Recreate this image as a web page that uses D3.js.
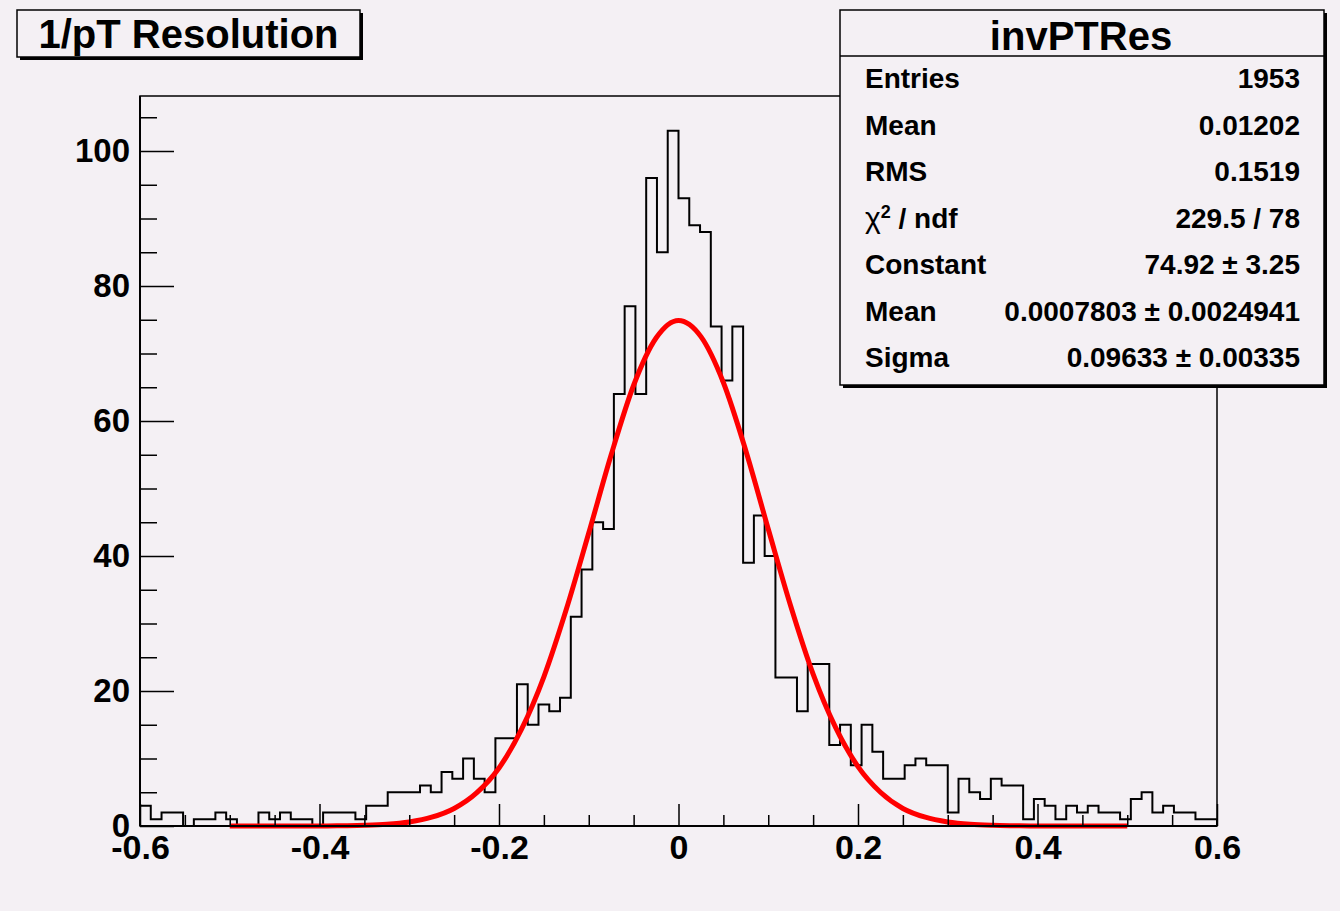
<!DOCTYPE html>
<html>
<head>
<meta charset="utf-8">
<script src="https://cdn.jsdelivr.net/npm/d3@7"></script>
<style>
  body { margin: 0; background: #f4f0f4; }
  text { font-family: "Liberation Sans", Arial, sans-serif; font-weight: bold; fill: #000; }
</style>
</head>
<body>
<div id="chart"></div>
<script>
// histogram: 100 bins from -0.6 to 0.6 (width 0.012)
const xMin = -0.6, xMax = 0.6, binWidth = 0.012;
const counts = [
  3, 1, 2, 2, 0, 1, 1, 2, 1, 0,
  0, 2, 1, 2, 1, 1, 0, 2, 2, 2,
  1, 3, 3, 5, 5, 5, 6, 5, 8, 7,
  10, 7, 5, 13, 13, 21, 15, 18, 17, 19,
  31, 38, 45, 44, 64, 77, 64, 96, 85, 103,
  93, 89, 88, 74, 66, 74, 39, 46, 40, 22,
  22, 17, 24, 24, 12, 15, 9, 15, 11, 7,
  7, 9, 10, 9, 9, 2, 7, 5, 4, 7,
  6, 6, 1, 4, 3, 1, 3, 2, 3, 2,
  2, 1, 4, 5, 2, 3, 2, 2, 1, 1
];

// fitted gaussian
const fitX = [-0.5, -0.475, -0.45, -0.425, -0.4, -0.375, -0.35, -0.325, -0.3, -0.275,
  -0.25, -0.225, -0.2, -0.175, -0.15, -0.125, -0.1, -0.075, -0.05, -0.025,
  0, 0.025, 0.05, 0.075, 0.1, 0.125, 0.15, 0.175, 0.2, 0.225,
  0.25, 0.275, 0.3, 0.325, 0.35, 0.375, 0.4, 0.425, 0.45, 0.475, 0.5];
const fitY = [0, 0, 0, 0, 0, 0.04, 0.1, 0.25, 0.6, 1.3,
  2.6, 4.9, 8.6, 14.3, 22.1, 32.1, 43.4, 55.0, 65.3, 72.3,
  74.9, 72.5, 65.7, 55.6, 44.0, 32.6, 22.5, 14.6, 8.8, 5.0,
  2.6, 1.3, 0.6, 0.25, 0.1, 0.04, 0, 0, 0, 0, 0];

const yMajor = [0, 20, 40, 60, 80, 100];
const yMinor = [5, 10, 15, 25, 30, 35, 45, 50, 55, 65, 70, 75, 85, 90, 95, 105];
const xMajor = [-0.6, -0.4, -0.2, 0, 0.2, 0.4, 0.6];
const xMinor = [-0.55, -0.5, -0.45, -0.35, -0.3, -0.25, -0.15, -0.1, -0.05,
  0.05, 0.1, 0.15, 0.25, 0.3, 0.35, 0.45, 0.5, 0.55];

const histTitle = "1/pT Resolution";
const statsTitle = "invPTRes";
const statLabels = ["Entries", "Mean", "RMS", "CHI", "Constant", "Mean", "Sigma"];
const statValues = ["1953", "0.01202", "0.1519", "229.5 / 78", "74.92 \u00b1 3.25",
  "0.0007803 \u00b1 0.0024941", "0.09633 \u00b1 0.00335"];

const W = 1340, H = 911;
const frame = { left: 140, right: 1217, top: 96, bottom: 826 };

const svg = d3.select("#chart").append("svg")
  .attr("width", W).attr("height", H);

svg.append("rect").attr("width", W).attr("height", H).attr("fill", "#f4f0f4");

const x = d3.scaleLinear().domain([xMin, xMax]).range([frame.left, frame.right]);
const y = d3.scaleLinear().domain([0, 1.05 * d3.max(counts)]).range([frame.bottom, frame.top]);

// frame
svg.append("rect")
  .attr("x", frame.left).attr("y", frame.top)
  .attr("width", frame.right - frame.left).attr("height", frame.bottom - frame.top)
  .attr("fill", "none").attr("stroke", "#000").attr("stroke-width", 1.5);

// histogram outline
const steps = [[xMin, 0]];
counts.forEach((c, i) => steps.push([xMin + i * binWidth, c]));
steps.push([xMax, counts[counts.length - 1]]);
steps.push([xMax, 0]);

svg.append("path")
  .datum(steps)
  .attr("d", d3.line().x(d => x(d[0])).y(d => y(d[1])).curve(d3.curveStepAfter))
  .attr("fill", "none").attr("stroke", "#000").attr("stroke-width", 2);

// fit curve
svg.append("path")
  .datum(fitX.map((v, i) => [v, fitY[i]]))
  .attr("d", d3.line().x(d => x(d[0])).y(d => y(d[1])).curve(d3.curveMonotoneX))
  .attr("fill", "none").attr("stroke", "#ff0000").attr("stroke-width", 5)
  .attr("stroke-linejoin", "round");

// axes
const yAxis = svg.append("g").attr("transform", `translate(${frame.left},0)`)
  .call(d3.axisLeft(y).tickValues(yMajor).tickSizeInner(-34).tickSizeOuter(0)
    .tickPadding(10).tickFormat(d3.format("d")));
svg.append("g").attr("transform", `translate(${frame.left},0)`)
  .call(d3.axisLeft(y).tickValues(yMinor).tickSizeInner(-17).tickSizeOuter(0).tickFormat(""));

const xAxis = svg.append("g").attr("transform", `translate(0,${frame.bottom})`)
  .call(d3.axisBottom(x).tickValues(xMajor).tickSizeInner(-22).tickSizeOuter(0)
    .tickPadding(9).tickFormat(d => String(d)));
svg.append("g").attr("transform", `translate(0,${frame.bottom})`)
  .call(d3.axisBottom(x).tickValues(xMinor).tickSizeInner(-11).tickSizeOuter(0).tickFormat(""));

svg.selectAll(".domain").remove();
svg.selectAll(".tick line").attr("stroke", "#000").attr("stroke-width", 1.5);
yAxis.selectAll("text").attr("font-size", 33).attr("font-family", null);
xAxis.selectAll("text").attr("font-size", 34).attr("font-family", null);

// axis lines on top
svg.append("line").attr("x1", frame.left).attr("x2", frame.left)
  .attr("y1", frame.top).attr("y2", frame.bottom)
  .attr("stroke", "#000").attr("stroke-width", 2);
svg.append("line").attr("x1", frame.left).attr("x2", frame.right)
  .attr("y1", frame.bottom).attr("y2", frame.bottom)
  .attr("stroke", "#000").attr("stroke-width", 2);

// title box
const tb = { x: 17, y: 10, w: 343, h: 47 };
svg.append("rect").attr("x", tb.x + 3).attr("y", tb.y + 3).attr("width", tb.w).attr("height", tb.h)
  .attr("fill", "#000");
svg.append("rect").attr("x", tb.x).attr("y", tb.y).attr("width", tb.w).attr("height", tb.h)
  .attr("fill", "#f4f0f4").attr("stroke", "#000").attr("stroke-width", 1.5);
svg.append("text").attr("x", tb.x + tb.w / 2).attr("y", 48)
  .attr("text-anchor", "middle").attr("font-size", 40).text(histTitle);

// stats box
const sb = { x: 840, y: 10, w: 484, h: 375 };
svg.append("rect").attr("x", sb.x + 3).attr("y", sb.y + 3).attr("width", sb.w).attr("height", sb.h)
  .attr("fill", "#000");
svg.append("rect").attr("x", sb.x).attr("y", sb.y).attr("width", sb.w).attr("height", sb.h)
  .attr("fill", "#f4f0f4").attr("stroke", "#000").attr("stroke-width", 1.5);
svg.append("line").attr("x1", sb.x).attr("x2", sb.x + sb.w).attr("y1", 56).attr("y2", 56)
  .attr("stroke", "#000").attr("stroke-width", 1.5);
svg.append("text").attr("x", 1081).attr("y", 50).attr("text-anchor", "middle")
  .attr("font-size", 40).text(statsTitle);

statLabels.forEach((lab, i) => {
  const by = 88 + i * 46.5;
  const t = svg.append("text").attr("x", 865).attr("y", by).attr("font-size", 28);
  if (lab === "CHI") {
    t.append("tspan").attr("font-weight", "normal").attr("font-size", 30).text("\u03c7");
    t.append("tspan").attr("font-size", 18).attr("dy", -10).text("2");
    t.append("tspan").attr("dy", 10).text(" / ndf");
  } else {
    t.text(lab);
  }
  svg.append("text").attr("x", 1300).attr("y", by).attr("text-anchor", "end")
    .attr("font-size", 28).text(statValues[i]);
});
</script>
</body>
</html>
